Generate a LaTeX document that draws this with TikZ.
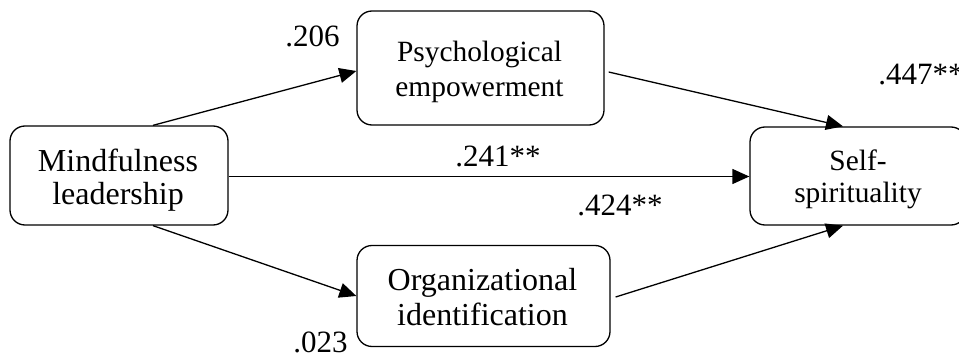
\documentclass[tikz,border=0pt]{standalone}
\usepackage{fontspec}
\setmainfont{Liberation Serif}
\usetikzlibrary{arrows.meta}
\begin{document}
\begin{tikzpicture}[x=0.5pt,y=-0.5pt,
  box/.style={draw, line width=0.65pt, rounded corners=7.5pt, inner sep=0pt},
  big/.style={font=\fontsize{16}{18}\selectfont, inner sep=0pt, anchor=base},
  small/.style={font=\fontsize{14.7}{17}\selectfont, inner sep=0pt, anchor=base},
  coef/.style={font=\fontsize{15.5}{18}\selectfont, inner sep=0pt, anchor=base west},
  path/.style={line width=0.65pt, -{Triangle[length=8.5pt,width=7.5pt]}}]
  \useasboundingbox (0,0) rectangle (959,358);

  % construct boxes
  \node[box, minimum width=109pt, minimum height=49.5pt] (ml) at (119,175.5) {};
  \node[box, minimum width=123.5pt, minimum height=57pt] (pe) at (480.5,68) {};
  \node[box, minimum width=126.5pt, minimum height=50.5pt] (oi) at (483.5,296) {};
  \node[box, minimum width=108pt, minimum height=49pt] (ss) at (858,176) {};

  % box captions
  \node[big] (ml1) at (118,171) {Mindfulness};
  \begin{scope}
    \clip (0,0) rectangle (959,210);
    \node[big] (ml2) at (118,205) {leadership};
  \end{scope}
  \node[small] (pe1) at (479.5,62) {Psychological};
  \node[small] (pe2) at (479.5,97) {empowerment};
  \node[big] (oi1) at (482.5,290) {Organizational};
  \node[big] (oi2) at (482.5,325) {identification};
  \node[small] (ss1) at (858,170) {Self-};
  \node[small] (ss2) at (858,203) {spirituality};

  % paths
  \draw[path] ([xshift=17pt]ml.north) -- ([yshift=-1.5pt]pe.west);
  \draw[path] ([yshift=-0.5pt]ml.east) -- ([yshift=-0.5pt]ml.east -| ss.west);
  \draw[path] ([xshift=17pt]ml.south) -- (oi.west);
  \draw[path] ([xshift=2pt,yshift=-2pt]pe.east) -- ([xshift=-7.5pt]ss.north);
  \draw[path] ([xshift=2.5pt,yshift=-0.5pt]oi.east) -- ([xshift=-7.5pt]ss.south);

  % path coefficients
  \node[coef] (c1) at (285,47) {.206};
  \node[coef] (c2) at (455,167) {.241**};
  \node[coef] (c3) at (577,215) {.424**};
  \node[coef] (c4) at (878,85) {.447**};
  \node[coef] (c5) at (293,352) {.023};
\end{tikzpicture}
\end{document}
